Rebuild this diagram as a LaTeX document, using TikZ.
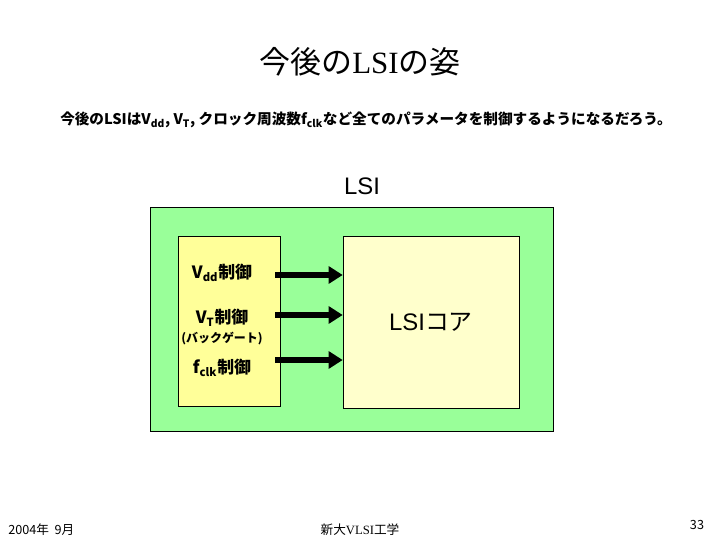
\documentclass[tikz,border=0pt]{standalone}
\usepackage{fontspec}
\setmainfont{Noto Sans CJK JP}
\newfontfamily\arialfont{Liberation Sans}
\newfontfamily\timesfont{Liberation Serif}
\usetikzlibrary{positioning,arrows.meta}

\definecolor{lsigreen}{HTML}{99FF99}
\definecolor{ctrlyellow}{HTML}{FFFF99}
\definecolor{coreyellow}{HTML}{FFFFCC}

\begin{document}
\begin{tikzpicture}[x=0.025cm, y=0.025cm, node distance=0.2cm,
    box/.style={draw, thin, inner sep=0pt},
    ctrl/.style={font=\bfseries\fontsize{12}{14}\selectfont, inner sep=1pt},
    bigarrow/.style={line width=3.6pt, -{Triangle[length=10pt, width=12pt]}},
    footer/.style={font=\fontsize{9}{10}\selectfont, inner sep=0pt}]
    \useasboundingbox (0,0) rectangle (720,540);
    \node (title) at (360,478) {\fontsize{22}{24}\selectfont 今後の{\timesfont LSI}の姿};
    \node[font=\bfseries\fontsize{10.4}{12}\selectfont] (intro) at (366,420)
      {今後のLSIはV\textsubscript{dd}, V\textsubscript{T}, クロック周波数f\textsubscript{clk}など全てのパラメータを制御するようになるだろう。};
    \node[font=\arialfont\fontsize{17}{19}\selectfont] (lsi) at (362,354) {LSI};
    \node[box, fill=lsigreen, minimum width=10.075cm, minimum height=5.6cm] (chip) at (351.5,221) {};
    \node[box, fill=ctrlyellow, minimum width=2.55cm, minimum height=4.25cm] (ctrlbox) at (229,219) {};
    \node[box, fill=coreyellow, minimum width=4.4cm, minimum height=4.3cm] (core) at (431,218) {};
    \node[font=\fontsize{17}{19}\selectfont] (coretext) at (431,218) {{\arialfont LSI}コア};
    % control labels
    \node[ctrl] (vdd) at (222,267) {V\textsubscript{dd}制御};
    \node[ctrl] (vt) at (222,222) {V\textsubscript{T}制御};
    \node[font=\bfseries\fontsize{8.5}{10}\selectfont, inner sep=0pt, below=0.08cm of vt] (bg) {(バックゲート)};
    \node[ctrl] (fclk) at (222,172) {f\textsubscript{clk}制御};
    % arrows into the core
    \coordinate (a1) at (275,265);
    \coordinate (a2) at (275,225);
    \coordinate (a3) at (275,180);
    \draw[bigarrow] (a1) -- (a1 -| core.west);
    \draw[bigarrow] (a2) -- (a2 -| core.west);
    \draw[bigarrow] (a3) -- (a3 -| core.west);
    % footer
    \node[footer, anchor=west] (date) at (8,10) {2004年\ \ 9月};
    \node[footer] (course) at (360,10) {新大{\timesfont VLSI}工学};
    \node[footer] (page) at (697,15) {33};
\end{tikzpicture}
\end{document}
